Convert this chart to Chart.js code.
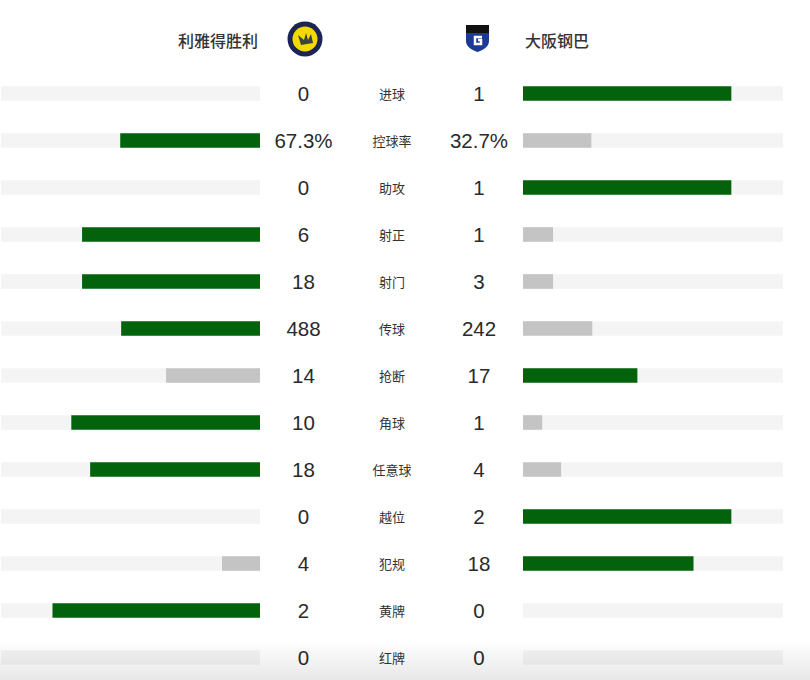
<!DOCTYPE html>
<html>
<head>
<meta charset="utf-8">
<script src="https://cdn.jsdelivr.net/npm/chart.js@4/dist/chart.umd.min.js"></script>
<style>
  html, body { margin: 0; padding: 0; background: #fff; overflow: hidden; }
  #wrap { position: relative; width: 810px; height: 680px; }
  canvas { position: absolute; }
  .t { position: absolute; transform: translate(-50%, -50%); white-space: nowrap; color: #333; }
  .num { font-family: "Liberation Sans", Arial, sans-serif; font-size: 20.5px; color: #2a2a2a; }
  .lab { font-family: "Noto Sans CJK SC", sans-serif; font-size: 13px; line-height: 13px; }
  .team { position: absolute; font-family: "Noto Sans CJK SC", sans-serif; font-size: 16px; font-weight: 500; color: #333; top: 28px; line-height: 24px; }
  #fade { position: absolute; left: 0; top: 640px; width: 810px; height: 40px;
          background: linear-gradient(rgba(0,0,0,0), rgba(0,0,0,0.09)); pointer-events: none; }
</style>
</head>
<body>
<div id="wrap">
  <div class="team" style="right:552px">利雅得胜利</div>
  <svg style="position:absolute;left:287px;top:21px" width="36" height="36" viewBox="0 0 36 36">
    <circle cx="18" cy="18" r="17.5" fill="#1c2454"/>
    <circle cx="18" cy="18" r="12.5" fill="#f2d900"/>
    <path d="M11 14 L14 24 L26 22 L24 13 L21 19 L19 12 L17 19 Z" fill="#1c2454" opacity="0.85"/>
  </svg>
  <svg style="position:absolute;left:466px;top:25px" width="23" height="27" viewBox="0 0 23 27">
    <path d="M0 0 H23 V8 H0 Z" fill="#111"/>
    <path d="M0 8 H23 V16 C23 22 17 25 11.5 27 C6 25 0 22 0 16 Z" fill="#1b3a93"/>
    <path d="M16 12 H9 V19 H15 V15 H12" stroke="#fff" stroke-width="2.5" fill="none"/>
  </svg>
  <div class="team" style="left:525px">大阪钢巴</div>
  <canvas id="left" width="259" height="611" style="left:1px;top:70px"></canvas>
  <canvas id="right" width="260" height="611" style="left:523px;top:70px"></canvas>
  <div id="fade"></div>
</div>
<script>
const statNames = ['进球', '控球率', '助攻', '射正', '射门', '传球', '抢断', '角球', '任意球', '越位', '犯规', '黄牌', '红牌']
const homeVals = [0, 67.3, 0, 6, 18, 488, 14, 10, 18, 0, 4, 2, 0]
const awayVals = [1, 32.7, 1, 1, 3, 242, 17, 1, 4, 2, 18, 0, 0]
const pctRows = [1]

const green = '#03630d'
const grey = '#c4c4c4'
const track = '#f4f4f4'

// each bar is its side's share of the row total, on 80% of the track
const share = (a, b) => (a == 0 ? null : a / (a + b) * 0.8)
const homeShare = homeVals.map((v, i) => share(v, awayVals[i]))
const awayShare = awayVals.map((v, i) => share(v, homeVals[i]))
const homeCol = homeVals.map((v, i) => v > awayVals[i] ? green : grey)
const awayCol = awayVals.map((v, i) => v > homeVals[i] ? green : grey)

const makeChart = (id, data, colors, reverse) => {
    return new Chart(document.getElementById(id), {
        type: 'bar',
        data: {
            labels: statNames,
            datasets: [{
                data: data,
                backgroundColor: colors,
                barThickness: 14,
                grouped: false
            }, {
                data: statNames.map(() => 1),
                backgroundColor: track,
                barThickness: 14,
                grouped: false
            }]
        },
        options: {
            indexAxis: 'y',
            responsive: false,
            animation: false,
            layout: { padding: 0 },
            scales: {
                x: { min: 0, max: 1, reverse: reverse, display: false },
                y: { display: false }
            },
            plugins: {
                legend: { display: false },
                tooltip: { enabled: false }
            }
        }
    })
}
makeChart('left', homeShare, homeCol, true)
makeChart('right', awayShare, awayCol, false)

// numbers and stat names
const wrap = document.getElementById('wrap')
const addText = (txt, cls, x, y) => {
    const d = document.createElement('div')
    d.className = 't ' + cls
    d.innerText = txt
    d.style.left = x + 'px'
    d.style.top = y + 'px'
    wrap.insertBefore(d, document.getElementById('fade'))
}
statNames.forEach((nom, i) => {
    const y = 94 + 47 * i
    const pct = pctRows.includes(i) ? '%' : ''
    addText(homeVals[i] + pct, 'num', 303.5, y)
    addText(nom, 'lab', 392, y - 1)
    addText(awayVals[i] + pct, 'num', 479, y)
})
</script>
</body>
</html>
